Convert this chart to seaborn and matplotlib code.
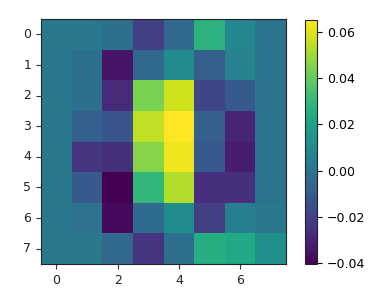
import numpy as np
import pandas as pd
import matplotlib
matplotlib.use("Agg")
import matplotlib.pyplot as plt
import seaborn as sns

rows = list(range(8))
cols = list(range(8))
row0 = [0.002, 0.002, -0.002, -0.021, -0.005, 0.027, 0.008, 0.000]
row1 = [0.002, -0.002, -0.035, -0.005, 0.010, -0.009, 0.006, 0.000]
row2 = [0.002, -0.002, -0.028, 0.044, 0.057, -0.019, -0.011, 0.000]
row3 = [0.002, -0.009, -0.013, 0.055, 0.065, -0.009, -0.030, 0.000]
row4 = [0.002, -0.024, -0.026, 0.046, 0.063, -0.011, -0.032, 0.000]
row5 = [0.002, -0.011, -0.0405, 0.029, 0.053, -0.026, -0.026, 0.000]
row6 = [0.002, -0.001, -0.038, -0.004, 0.010, -0.021, 0.004, 0.002]
row7 = [0.002, 0.002, -0.005, -0.024, -0.002, 0.025, 0.023, 0.012]
cbar_ticks = [-0.04, -0.02, 0.00, 0.02, 0.04, 0.06]
xtick_labels = [0, 2, 4, 6]

data = pd.DataFrame([row0, row1, row2, row3, row4, row5, row6, row7],
                    index=rows, columns=cols)

plt.rcParams['font.size'] = 9
fig = plt.figure(figsize=(3.74, 2.99), dpi=100)
ax = fig.add_axes([0.110, 0.117, 0.655, 0.819])
cax = fig.add_axes([0.816, 0.117, 0.032, 0.816])

sns.heatmap(data, ax=ax, cmap="viridis", cbar=True, cbar_ax=cax,
            vmin=-0.0405, vmax=0.0652, square=False)

ax.set_xticks([c + 0.5 for c in xtick_labels])
ax.set_xticklabels([str(c) for c in xtick_labels], rotation=0)
ax.set_yticks([r + 0.5 for r in rows])
ax.set_yticklabels([str(r) for r in rows], rotation=0)
ax.tick_params(length=3.5, width=0.8, colors='#333333', labelcolor='#222222')
for s in ax.spines.values():
    s.set_visible(True)
    s.set_color('#222222')
    s.set_linewidth(0.8)

cb = ax.collections[0].colorbar
cb.set_ticks(cbar_ticks)
cb.set_ticklabels(['\u22120.04', '\u22120.02', '0.00', '0.02', '0.04', '0.06'])
cb.outline.set_visible(True)
cb.outline.set_edgecolor('#222222')
cb.outline.set_linewidth(0.8)
cax.tick_params(length=3.5, width=0.8, labelsize=9)

fig.savefig("out.png", dpi=100)
